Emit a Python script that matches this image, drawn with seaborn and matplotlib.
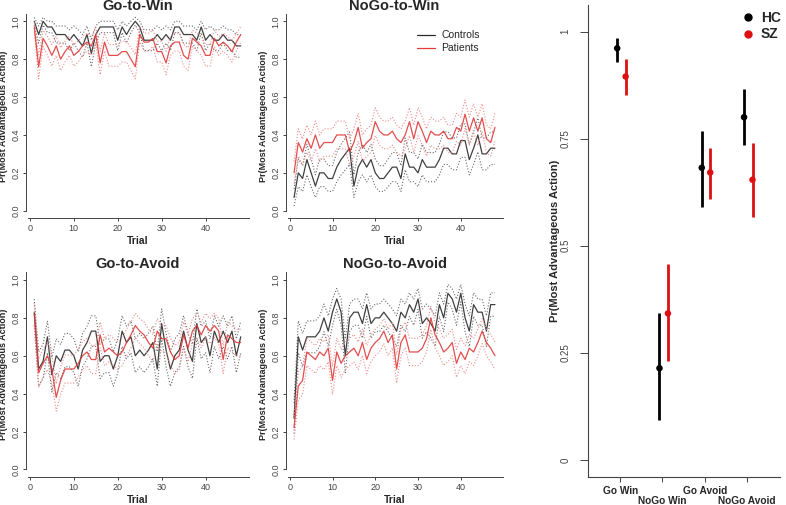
import numpy as np
import pandas as pd
import matplotlib
matplotlib.use("Agg")
import matplotlib.pyplot as plt
import seaborn as sns
from matplotlib.lines import Line2D

# ---------------- data ----------------
trials = list(range(1, 49))

titles = ["Go-to-Win", "NoGo-to-Win", "Go-to-Avoid", "NoGo-to-Avoid"]

# Go-to-Win
gw_ctrl = [1.0,0.93,1.0,0.97,0.97,0.93,0.93,0.93,0.9,0.93,0.9,0.87,0.93,0.83,0.93,0.97,0.97,0.97,0.97,0.9,
           0.97,0.93,0.97,1.0,0.97,0.9,0.9,0.9,0.93,0.9,0.93,0.9,0.97,0.97,0.93,0.93,0.93,0.9,0.97,0.9,
           0.93,0.9,0.9,0.93,0.9,0.9,0.87,0.87]
gw_ctrl_se = [0.02,0.045,0.02,0.03,0.03,0.045,0.045,0.045,0.055,0.045,0.055,0.06,0.045,0.07,0.045,0.03,0.03,0.03,0.03,0.055,
              0.03,0.045,0.03,0.02,0.03,0.055,0.055,0.055,0.045,0.055,0.045,0.055,0.03,0.03,0.045,0.045,0.045,0.055,0.03,0.055,
              0.045,0.055,0.055,0.045,0.055,0.055,0.06,0.06]
gw_pat = [0.97,0.76,0.91,0.87,0.82,0.87,0.80,0.84,0.87,0.82,0.84,0.87,0.89,0.87,0.93,0.78,0.89,0.82,0.82,0.82,
          0.84,0.84,0.80,0.76,0.93,0.89,0.89,0.91,0.84,0.84,0.78,0.87,0.89,0.89,0.82,0.80,0.91,0.89,0.87,0.82,
          0.82,0.91,0.87,0.89,0.87,0.84,0.89,0.93]
gw_pat_se = [0.025,0.064,0.043,0.05,0.057,0.05,0.06,0.055,0.05,0.057,0.055,0.05,0.047,0.05,0.04,0.062,0.047,0.057,0.057,0.057,
             0.055,0.055,0.06,0.064,0.04,0.047,0.047,0.043,0.055,0.055,0.062,0.05,0.047,0.047,0.057,0.06,0.043,0.047,0.05,0.057,
             0.057,0.043,0.05,0.047,0.05,0.055,0.047,0.04]

# NoGo-to-Win
nw_ctrl = [0.07,0.2,0.17,0.27,0.2,0.13,0.2,0.2,0.17,0.17,0.23,0.27,0.3,0.33,0.13,0.23,0.27,0.23,0.27,0.2,
           0.17,0.17,0.2,0.23,0.23,0.17,0.3,0.23,0.23,0.2,0.27,0.23,0.23,0.23,0.27,0.33,0.33,0.3,0.3,0.37,
           0.37,0.27,0.33,0.4,0.3,0.3,0.33,0.33]
nw_ctrl_se = [0.045,0.073,0.068,0.081,0.073,0.06,0.073,0.073,0.068,0.068,0.077,0.081,0.084,0.086,0.06,0.077,0.081,0.077,0.081,0.073,
              0.068,0.068,0.073,0.077,0.077,0.068,0.084,0.077,0.077,0.073,0.081,0.077,0.077,0.077,0.081,0.086,0.086,0.084,0.084,0.088,
              0.088,0.081,0.086,0.089,0.084,0.084,0.086,0.086]
nw_pat = [0.2,0.36,0.31,0.38,0.33,0.4,0.33,0.36,0.36,0.36,0.4,0.4,0.4,0.31,0.36,0.44,0.33,0.36,0.38,0.47,
          0.42,0.4,0.4,0.42,0.38,0.36,0.4,0.47,0.38,0.47,0.42,0.36,0.42,0.4,0.4,0.42,0.38,0.38,0.44,0.42,
          0.51,0.42,0.49,0.42,0.49,0.38,0.36,0.44]
nw_pat_se = [0.06,0.072,0.069,0.072,0.07,0.073,0.07,0.072,0.072,0.072,0.073,0.073,0.073,0.069,0.072,0.074,0.07,0.072,0.072,0.074,
             0.074,0.073,0.073,0.074,0.072,0.072,0.073,0.074,0.072,0.074,0.074,0.072,0.074,0.073,0.073,0.074,0.072,0.072,0.074,0.074,
             0.075,0.074,0.075,0.074,0.075,0.072,0.072,0.074]

# Go-to-Avoid
ga_ctrl = [0.83,0.53,0.57,0.7,0.5,0.6,0.57,0.63,0.63,0.6,0.53,0.63,0.67,0.73,0.73,0.57,0.6,0.6,0.53,0.6,
           0.73,0.67,0.7,0.6,0.63,0.6,0.63,0.67,0.53,0.77,0.63,0.53,0.6,0.63,0.73,0.63,0.57,0.77,0.67,0.7,
           0.6,0.73,0.67,0.73,0.67,0.73,0.6,0.7]
ga_ctrl_se = [0.069,0.091,0.09,0.084,0.091,0.089,0.09,0.088,0.088,0.089,0.091,0.088,0.086,0.081,0.081,0.09,0.089,0.089,0.091,0.089,
              0.081,0.086,0.084,0.089,0.088,0.089,0.088,0.086,0.091,0.077,0.088,0.091,0.089,0.088,0.081,0.088,0.09,0.077,0.086,0.084,
              0.089,0.081,0.086,0.081,0.086,0.081,0.089,0.084]
ga_pat = [0.82,0.51,0.56,0.6,0.53,0.38,0.47,0.53,0.53,0.53,0.56,0.6,0.62,0.58,0.58,0.71,0.62,0.64,0.62,0.6,
          0.62,0.67,0.71,0.76,0.73,0.71,0.67,0.64,0.73,0.69,0.69,0.62,0.58,0.6,0.71,0.64,0.73,0.76,0.71,0.76,
          0.73,0.76,0.73,0.58,0.71,0.69,0.67,0.67]
ga_pat_se = [0.057,0.075,0.074,0.073,0.074,0.072,0.074,0.074,0.074,0.074,0.074,0.073,0.072,0.074,0.074,0.068,0.072,0.072,0.072,0.073,
             0.072,0.07,0.068,0.064,0.066,0.068,0.07,0.072,0.066,0.069,0.069,0.072,0.074,0.073,0.068,0.072,0.066,0.064,0.068,0.064,
             0.066,0.064,0.066,0.074,0.068,0.069,0.07,0.07]

# NoGo-to-Avoid
na_ctrl = [0.27,0.7,0.63,0.7,0.7,0.7,0.73,0.8,0.73,0.83,0.9,0.83,0.6,0.8,0.83,0.83,0.77,0.87,0.77,0.8,
           0.8,0.83,0.8,0.77,0.73,0.83,0.8,0.87,0.83,0.9,0.77,0.8,0.77,0.73,0.87,0.8,0.93,0.9,0.83,0.93,
           0.8,0.73,0.87,0.83,0.83,0.73,0.87,0.87]
na_ctrl_se = [0.081,0.084,0.088,0.084,0.084,0.084,0.081,0.073,0.081,0.069,0.055,0.069,0.089,0.073,0.069,0.069,0.077,0.062,0.077,0.073,
              0.073,0.069,0.073,0.077,0.081,0.069,0.073,0.062,0.069,0.055,0.077,0.073,0.077,0.081,0.062,0.073,0.046,0.055,0.069,0.046,
              0.073,0.081,0.062,0.069,0.069,0.081,0.062,0.062]
na_pat = [0.22,0.44,0.47,0.62,0.6,0.58,0.62,0.6,0.64,0.47,0.62,0.56,0.6,0.62,0.64,0.6,0.67,0.58,0.64,0.67,
          0.69,0.73,0.67,0.71,0.53,0.67,0.71,0.62,0.62,0.62,0.64,0.69,0.8,0.71,0.67,0.62,0.64,0.67,0.56,0.62,
          0.58,0.64,0.62,0.67,0.73,0.67,0.64,0.6]
na_pat_se = [0.062,0.074,0.074,0.072,0.073,0.074,0.072,0.073,0.072,0.074,0.072,0.074,0.073,0.072,0.072,0.073,0.07,0.074,0.072,0.07,
             0.069,0.066,0.07,0.068,0.074,0.07,0.068,0.072,0.072,0.072,0.072,0.069,0.06,0.068,0.07,0.072,0.072,0.07,0.074,0.072,
             0.074,0.072,0.072,0.07,0.066,0.07,0.072,0.073]

# Summary panel
conditions = ["Go Win", "NoGo Win", "Go Avoid", "NoGo Avoid"]
hc_mean = [0.961, 0.214, 0.682, 0.800]
hc_lo = [0.930, 0.092, 0.591, 0.734]
hc_hi = [0.985, 0.342, 0.768, 0.865]
sz_mean = [0.895, 0.342, 0.671, 0.654]
sz_lo = [0.852, 0.230, 0.609, 0.568]
sz_hi = [0.935, 0.457, 0.729, 0.739]

# ---------------- style ----------------
sns.set_style("ticks")
plt.rcParams['font.family'] = ['Liberation Sans', 'DejaVu Sans']

W, H = 786, 505
fig = plt.figure(figsize=(W / 100, H / 100), dpi=100)


def px_axes(left, top, width, height):
    return fig.add_axes([left / W, 1 - (top + height) / H, width / W, height / H])


CTRL_COL = "#2b2b2b"
PAT_COL = "#e03a3a"
CTRL_DOT = "#6a6a6a"
PAT_DOT = "#f08a8a"

series = [
    (gw_ctrl, gw_ctrl_se, gw_pat, gw_pat_se),
    (nw_ctrl, nw_ctrl_se, nw_pat, nw_pat_se),
    (ga_ctrl, ga_ctrl_se, ga_pat, ga_pat_se),
    (na_ctrl, na_ctrl_se, na_pat, na_pat_se),
]
boxes = [(26, 13.7, 223, 204.6), (286, 13.7, 217, 204.6),
         (26, 272.4, 223, 204.6), (286, 272.4, 217, 204.6)]

tick_col = "#444444"
for i, (title, (cm, cse, pm, pse), box) in enumerate(zip(titles, series, boxes)):
    ax = px_axes(*box)
    for mean, se, col, dcol in [(cm, cse, CTRL_COL, CTRL_DOT), (pm, pse, PAT_COL, PAT_DOT)]:
        m = np.array(mean)
        s = np.array(se)
        df = pd.DataFrame({"trial": trials, "mean": m, "hi": m + s, "lo": m - s})
        sns.lineplot(data=df, x="trial", y="hi", color=dcol, lw=0.8, ls=":", ax=ax, errorbar=None)
        sns.lineplot(data=df, x="trial", y="lo", color=dcol, lw=0.8, ls=":", ax=ax, errorbar=None)
        sns.lineplot(data=df, x="trial", y="mean", color=col, lw=0.9, ax=ax, errorbar=None, alpha=0.9)
    ax.set_xlim(-0.88, 49.88)
    ax.set_ylim(-0.04, 1.04)
    ax.set_xticks([0, 10, 20, 30, 40])
    ax.set_yticks([0, 0.2, 0.4, 0.6, 0.8, 1.0])
    ax.set_yticklabels(["0.0", "0.2", "0.4", "0.6", "0.8", "1.0"], rotation=90, va="center")
    ax.tick_params(labelsize=6.5, length=2.5, width=0.7, color=tick_col, labelcolor=tick_col, pad=1.5)
    for sp in ["top", "right"]:
        ax.spines[sp].set_visible(False)
    for sp in ["left", "bottom"]:
        ax.spines[sp].set_color(tick_col)
        ax.spines[sp].set_linewidth(0.7)
    ax.spines["bottom"].set_bounds(-0.4, 49.88)
    ax.spines["left"].set_bounds(0, 1.04)
    ax.set_xlabel("Trial", fontsize=7.5, fontweight="bold", labelpad=2.5)
    ax.set_ylabel("Pr(Most Advantageous Action)", fontsize=6.5, fontweight="bold", labelpad=2.5)
    ax.set_title(title, fontsize=10.5, fontweight="bold", pad=3)
    if i == 1:
        handles = [Line2D([], [], color=CTRL_COL, lw=0.9), Line2D([], [], color=PAT_COL, lw=0.9)]
        ax.legend(handles, ["Controls", "Patients"], loc="upper left",
                  bbox_to_anchor=(410 / W, 1 - 23 / H), bbox_transform=fig.transFigure,
                  frameon=False, fontsize=7.5, handlelength=1.7, handletextpad=0.6,
                  labelspacing=0.3, borderpad=0.2)

# ---------------- summary panel ----------------
axr = px_axes(588, 5, 192, 472)
cats = np.arange(len(conditions))
hc_x = cats - 0.07
sz_x = cats + 0.13
HC_COL = "#000000"
SZ_COL = "#dd1111"
axr.vlines(hc_x, hc_lo, hc_hi, color=HC_COL, lw=2.0)
axr.vlines(sz_x, sz_lo, sz_hi, color=SZ_COL, lw=2.0)
sns.scatterplot(x=hc_x, y=hc_mean, color=HC_COL, s=22, edgecolor="none", ax=axr, zorder=3)
sns.scatterplot(x=sz_x, y=sz_mean, color=SZ_COL, s=22, edgecolor="none", ax=axr, zorder=3)
axr.set_xlim(-0.76, 3.78)
axr.set_ylim(-0.04, 1.062)
# alternate tick-label rows: major ticks on first row, minor ticks on second row
axr.set_xticks(cats[0::2])
axr.set_xticklabels(conditions[0::2], fontsize=7.3, fontweight="bold")
axr.set_xticks(cats[1::2], minor=True)
axr.set_xticklabels(conditions[1::2], minor=True, fontsize=7.3, fontweight="bold")
axr.set_yticks([0, 0.25, 0.5, 0.75, 1.0])
axr.set_yticklabels(["0", "0.25", "0.5", "0.75", "1"], rotation=90, va="center")
axr.tick_params(axis="y", labelsize=7, length=5.5, width=0.7, color=tick_col, labelcolor=tick_col, pad=7)
axr.tick_params(axis="x", which="major", length=3.5, width=0.7, color=tick_col, pad=3)
axr.tick_params(axis="x", which="minor", length=3.5, width=0.7, color=tick_col, pad=10.5)
for sp in ["top", "right"]:
    axr.spines[sp].set_visible(False)
for sp in ["left", "bottom"]:
    axr.spines[sp].set_color(tick_col)
    axr.spines[sp].set_linewidth(0.8)
axr.set_ylabel("Pr(Most Advantageous Action)", fontsize=8, fontweight="bold", labelpad=0.5)
axr.set_xlabel("")

leg_handles = [Line2D([], [], marker="o", ls="", color=HC_COL, markersize=5),
               Line2D([], [], marker="o", ls="", color=SZ_COL, markersize=5)]
leg = fig.legend(leg_handles, ["HC", "SZ"], loc="upper left",
                 bbox_to_anchor=(733 / W, 1 - 1 / H), frameon=False,
                 prop={"size": 10, "weight": "bold"}, handlelength=0.8,
                 handletextpad=0.5, labelspacing=0.2, borderpad=0.2)

fig.savefig("out.png", dpi=100)
